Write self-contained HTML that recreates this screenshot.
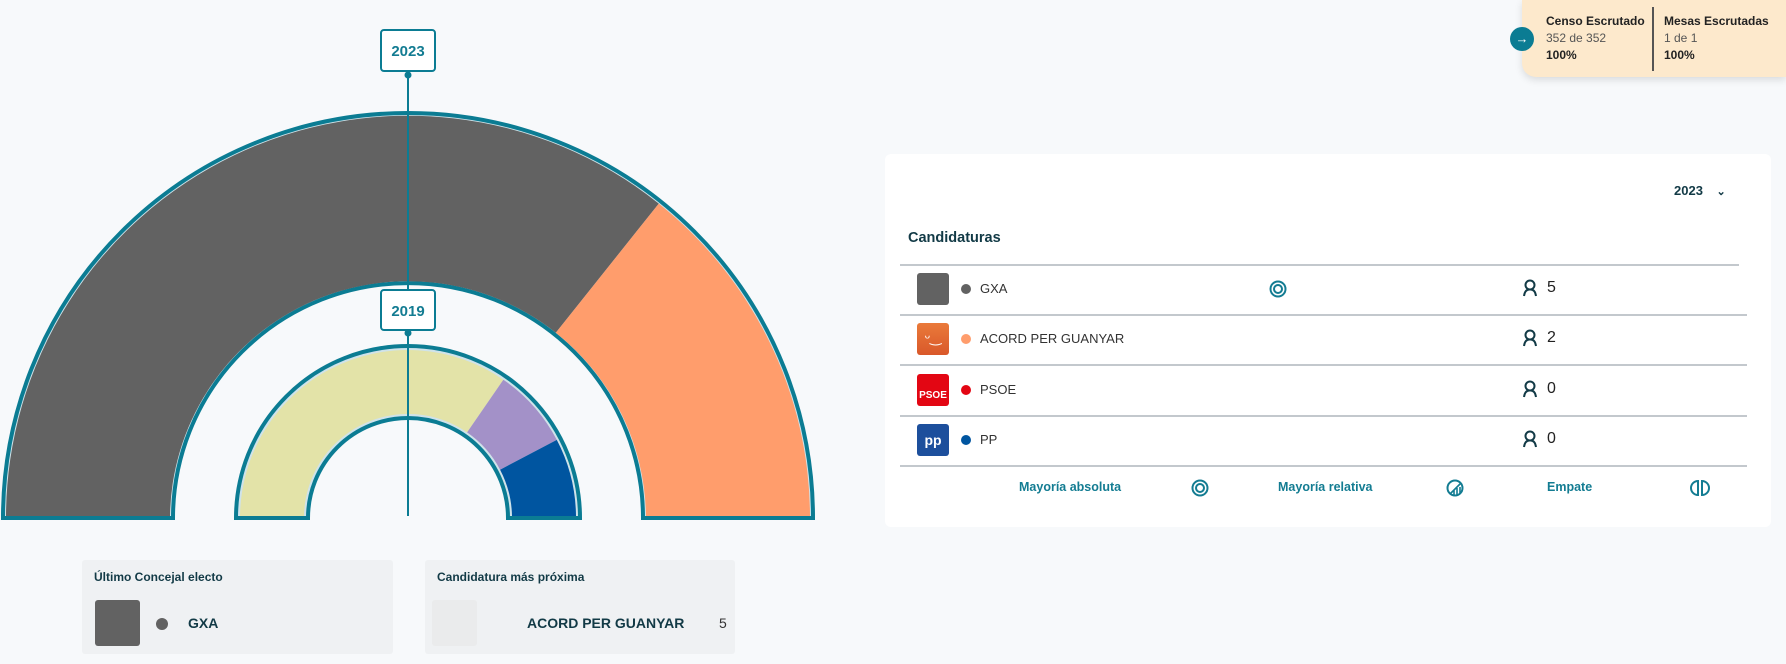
<!DOCTYPE html>
<html><head><meta charset="utf-8"><style>
body{margin:0;width:1786px;height:664px;background:#f7f9fb;font-family:"Liberation Sans",sans-serif;position:relative;overflow:hidden;color:#123a46}
.abs{position:absolute}
.card{left:885px;top:154px;width:886px;height:373px;background:#fff;border-radius:6px}
.line{position:absolute;left:900px;width:847px;height:2px;background:#c3c8cd}
.row{position:absolute;left:917px;width:830px;height:40px}
.logo{position:absolute;left:0;top:4px;width:32px;height:32px;border-radius:3px}
.dot{position:absolute;left:44px;top:15px;width:10px;height:10px;border-radius:50%}
.name{position:absolute;left:63px;top:12px;font-size:13px;color:#333}
.per{position:absolute;left:605px;top:10px}
.num{position:absolute;left:630px;top:10px;font-size:16px;color:#222}
.foot{position:absolute;top:480px;font-size:12.5px;font-weight:bold;color:#137c92}
.box{background:#eff1f3;border-radius:3px;height:94px;top:560px}
.bt{position:absolute;left:12px;top:10px;font-size:12px;font-weight:bold;color:#123a46}
</style></head><body>
<svg class="abs" style="left:0;top:0" width="880" height="664">
<path d="M3,518 A405 405 0 0 1 813,518 L643,518 A235 235 0 0 0 173,518 Z" fill="#cfe3ea" stroke="#0b7c93" stroke-width="4"/>
<path d="M6,516 A402 402 0 0 1 658.8,203.6 L555.8,332.7 A238 238 0 0 0 170,516 Z" fill="#626262"/>
<path d="M658.8,203.6 A402 402 0 0 1 810,516 L646,516 A238 238 0 0 0 555.8,332.7 Z" fill="#ff9d6c"/>
<path d="M236,518 A172 172 0 0 1 580,518 L508,518 A100 100 0 0 0 308,518 Z" fill="#cfe3ea" stroke="#0b7c93" stroke-width="4"/>
<path d="M240,516 A168 168 0 0 1 503.4,379.7 L467.1,432.4 A104 104 0 0 0 304,516 Z" fill="#e3e3a8"/>
<path d="M503.4,379.7 A168 168 0 0 1 556.8,439.9 L500.1,469.7 A104 104 0 0 0 467.1,432.4 Z" fill="#a391c8"/>
<path d="M556.8,439.9 A168 168 0 0 1 576,516 L512,516 A104 104 0 0 0 500.1,469.7 Z" fill="#0055a0"/>
<line x1="408" y1="71" x2="408" y2="516" stroke="#0b7c93" stroke-width="2"/>
<circle cx="408" cy="75" r="3.5" fill="#0b7c93"/>
<circle cx="408" cy="333" r="3.5" fill="#0b7c93"/>
<rect x="381" y="30" width="54" height="41" rx="3" fill="#fff" stroke="#0b7c93" stroke-width="2"/>
<text x="408" y="56" text-anchor="middle" font-size="15" font-weight="bold" fill="#137c92" font-family="Liberation Sans">2023</text>
<rect x="381" y="290" width="54" height="40" rx="3" fill="#fff" stroke="#0b7c93" stroke-width="2"/>
<text x="408" y="316" text-anchor="middle" font-size="15" font-weight="bold" fill="#137c92" font-family="Liberation Sans">2019</text>
</svg>

<div class="abs" style="left:1522px;top:0;width:264px;height:77px;background:#fde9cc;border-radius:0 0 0 14px;box-shadow:0 3px 8px rgba(0,0,0,.12)"></div>
<div class="abs" style="left:1510px;top:27px;width:24px;height:24px;border-radius:50%;background:#0b7c93;color:#fff;font-size:13px;text-align:center;line-height:24px">→</div>
<div class="abs" style="left:1546px;top:13px;font-size:12px;line-height:17px;color:#222"><b>Censo Escrutado</b><br><span style="color:#555">352 de 352</span><br><b>100%</b></div>
<div class="abs" style="left:1652px;top:7px;width:2px;height:64px;background:#555"></div>
<div class="abs" style="left:1664px;top:13px;font-size:12px;line-height:17px;color:#222"><b>Mesas Escrutadas</b><br><span style="color:#555">1 de 1</span><br><b>100%</b></div>

<div class="abs card"></div>
<div class="abs" style="left:1674px;top:183px;font-size:13px;font-weight:bold;color:#123a46">2023 <span style="margin-left:10px;font-size:11px">⌄</span></div>
<div class="abs" style="left:908px;top:230px;font-size:14.5px;font-weight:bold;color:#123a46">Candidaturas</div>
<div class="line" style="top:264px;width:839px"></div>
<div class="line" style="top:314px"></div>
<div class="line" style="top:364px"></div>
<div class="line" style="top:415px"></div>
<div class="line" style="top:465px"></div>

<svg width="0" height="0" style="position:absolute"><defs><g id="p"><circle cx="8" cy="6" r="4.5" fill="none" stroke="#123a46" stroke-width="2"/><path d="M2,17 Q3,10 8,10.5 Q13,10 14,17" fill="none" stroke="#123a46" stroke-width="2"/></g></defs></svg>

<div class="row" style="top:269px"><div class="logo" style="background:#626262"></div><div class="dot" style="background:#626262"></div><div class="name">GXA</div>
<svg class="abs" style="left:352px;top:11px" width="18" height="18"><circle cx="9" cy="9" r="7.5" fill="none" stroke="#137c92" stroke-width="2"/><circle cx="9" cy="9" r="4" fill="none" stroke="#137c92" stroke-width="2"/></svg>
<svg class="per" width="18" height="20"><use href="#p"/></svg><div class="num">5</div></div>
<div class="row" style="top:319px"><div class="logo" style="background:linear-gradient(#ea7a3a,#d9582a);color:#fff;text-align:center;font-size:14px;line-height:28px">ᵕ‿</div><div class="dot" style="background:#ff9d6c"></div><div class="name">ACORD PER GUANYAR</div>
<svg class="per" width="18" height="20"><use href="#p"/></svg><div class="num">2</div></div>
<div class="row" style="top:370px"><div class="logo" style="background:#e30613;color:#fff;font-size:10px;font-weight:bold;text-align:center;line-height:44px">PSOE</div><div class="dot" style="background:#e30613"></div><div class="name">PSOE</div>
<svg class="per" width="18" height="20"><use href="#p"/></svg><div class="num">0</div></div>
<div class="row" style="top:420px"><div class="logo" style="background:#1d4f9c;color:#fff;font-size:14px;font-weight:bold;text-align:center;line-height:32px">pp</div><div class="dot" style="background:#0055a0"></div><div class="name">PP</div>
<svg class="per" width="18" height="20"><use href="#p"/></svg><div class="num">0</div></div>

<div class="foot" style="left:1019px">Mayoría absoluta</div>
<svg class="abs" style="left:1191px;top:479px" width="18" height="18"><circle cx="9" cy="9" r="7.5" fill="none" stroke="#137c92" stroke-width="2"/><circle cx="9" cy="9" r="4" fill="none" stroke="#137c92" stroke-width="2"/></svg>
<div class="foot" style="left:1278px">Mayoría relativa</div>
<svg class="abs" style="left:1446px;top:479px" width="18" height="18"><circle cx="9" cy="9" r="7.5" fill="none" stroke="#137c92" stroke-width="2"/><path d="M4,15 L15,4 M8,16 L8,11 M11,16 L11,9 M14,14 L14,8" stroke="#137c92" stroke-width="1.6"/></svg>
<div class="foot" style="left:1547px">Empate</div>
<svg class="abs" style="left:1690px;top:479px" width="20" height="18"><path d="M8,2 A7 7 0 0 0 8,16 Z M12,2 A7 7 0 0 1 12,16 Z" fill="none" stroke="#137c92" stroke-width="2"/></svg>

<div class="abs box" style="left:82px;width:311px"><div class="bt">Último Concejal electo</div>
<div class="abs" style="left:13px;top:40px;width:45px;height:46px;background:#626262;border-radius:3px"></div>
<div class="abs" style="left:74px;top:58px;width:12px;height:12px;border-radius:50%;background:#626262"></div>
<div class="abs" style="left:106px;top:55px;font-size:14px;font-weight:bold;color:#123a46">GXA</div></div>
<div class="abs box" style="left:425px;width:310px"><div class="bt">Candidatura más próxima</div>
<div class="abs" style="left:7px;top:40px;width:45px;height:46px;background:#eaebec;border-radius:3px"></div>
<div class="abs" style="left:102px;top:55px;font-size:14px;font-weight:bold;color:#123a46">ACORD PER GUANYAR</div>
<div class="abs" style="left:294px;top:55px;font-size:14px;color:#333">5</div></div>
</body></html>
